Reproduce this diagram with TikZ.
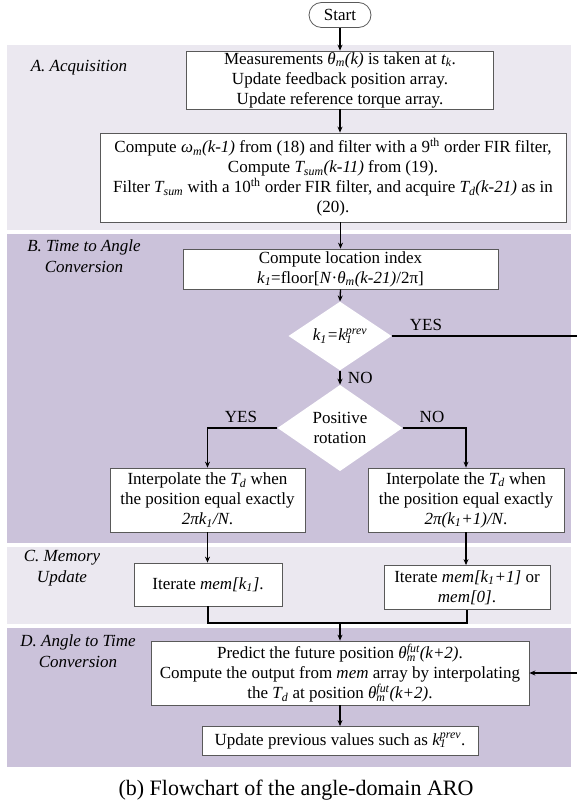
\documentclass[tikz,border=0pt]{standalone}
\usepackage{fontspec}
\setmainfont{Liberation Serif}
\usepackage{tikz}
\usetikzlibrary{positioning}
\usetikzlibrary{shapes.geometric,shapes.misc,arrows.meta}

\definecolor{bandlight}{RGB}{235,232,240}
\definecolor{banddark}{RGB}{203,194,218}

\newcommand{\subsup}[2]{\rlap{\textsubscript{#1}}\textsuperscript{#2}}

\tikzset{
	box/.style={draw=black!65, fill=white, line width=0.8pt, align=center, inner sep=1pt},
	decision/.style={diamond, draw=none, fill=white, align=center, inner sep=0pt},
	flow/.style={line width=1.3pt, -{Stealth[length=6pt,width=5pt]}},
	plain/.style={line width=1.3pt},
	bandlabel/.style={font=\fontsize{17}{20.5}\selectfont\itshape, align=center},
	answer/.style={font=\fontsize{17}{20}\selectfont}
}

\begin{document}
\begin{tikzpicture}[x=1pt, y=-1pt, font=\fontsize{17}{20}\selectfont]

	\useasboundingbox (0,0) rectangle (576,802);

	%Bands
	\fill[bandlight] (7,45) rectangle (571,230);
	\fill[banddark] (7,234) rectangle (571,543);
	\fill[bandlight] (7,547) rectangle (571,624);
	\fill[banddark] (7,628) rectangle (571,767);

	\node[bandlabel] (LabA) at (79,68) {A. Acquisition};
	\node[bandlabel] (LabB) at (84,256) {B. Time to Angle\\Conversion};
	\node[bandlabel] (LabC) at (62,568) {C. Memory\\Update};
	\node[bandlabel] (LabD) at (78,651) {D. Angle to Time\\Conversion};

	%Vertices
	\node[draw=black!65, fill=white, line width=0.8pt, rounded rectangle, minimum width=62pt, minimum height=25pt, inner sep=0pt] (Start) at (340,15) {Start};

	\node[box, minimum width=307pt, minimum height=58pt] (Acq1) at (340,80) {Measurements \textit{θ\textsubscript{m}(k)} is taken at \textit{t\textsubscript{k}}.\\Update feedback position array.\\Update reference torque array.};

	\node[box, minimum width=466pt, minimum height=89pt] (Acq2) at (333,177.5) {Compute \textit{ω\textsubscript{m}(k-1)} from (18) and filter with a 9\textsuperscript{th} order FIR filter,\\Compute \textit{T\textsubscript{sum}(k-11)} from (19).\\Filter \textit{T\textsubscript{sum}} with a 10\textsuperscript{th} order FIR filter, and acquire \textit{T\textsubscript{d}(k-21)} as in\\(20).};

	\node[box, minimum width=315pt, minimum height=40pt] (Loc) at (340.5,269) {Compute location index\\\textit{k\textsubscript{1}}=floor[\textit{N}·\textit{θ\textsubscript{m}(k-21)}/2π]};

	\node[decision, minimum width=103pt, minimum height=61pt] (Same) at (340,336) {\textit{k\textsubscript{1}=k\subsup{1}{prev}}};

	\node[decision, minimum width=125pt, minimum height=73pt] (Rot) at (340,428) {Positive\\rotation};

	\node[box, minimum width=195pt, minimum height=64pt] (InterpP) at (207.5,500) {Interpolate the \textit{T\textsubscript{d}} when\\the position equal exactly\\\textit{2πk\textsubscript{1}/N}.};

	\node[box, minimum width=196pt, minimum height=64pt] (InterpN) at (466,500) {Interpolate the \textit{T\textsubscript{d}} when\\the position equal exactly\\\textit{2π(k\textsubscript{1}+1)/N}.};

	\node[box, minimum width=148pt, minimum height=43pt] (MemP) at (208,584.5) {Iterate \textit{mem[k\textsubscript{1}]}.};

	\node[box, minimum width=166pt, minimum height=44pt] (MemN) at (467,587.5) {Iterate \textit{mem[k\textsubscript{1}+1]} or\\\textit{mem[0]}.};

	\node[box, minimum width=378pt, minimum height=64pt] (Pred) at (340,673) {Predict the future position \textit{θ\subsup{m}{fut}(k+2)}.\\Compute the output from \textit{mem} array by interpolating\\the \textit{T\textsubscript{d}} at position \textit{θ\subsup{m}{fut}(k+2)}.};

	\node[box, minimum width=276pt, minimum height=29pt] (Upd) at (340,741) {Update previous values such as \textit{k\subsup{1}{prev}}.};

	\node[font=\fontsize{22}{26}\selectfont] (Cap) at (296,790) {(b) Flowchart of the angle-domain ARO};

	\coordinate (LoopR) at (590,0);
	\coordinate (Join) at (340,623);

	%Diagram
	\draw[flow] (Start.south) -- (Acq1.north);
	\draw[flow] (Acq1.south) -- (Acq1.south |- Acq2.north);
	\draw[flow] (Loc.north |- Acq2.south) -- (Loc.north);
	\draw[flow] (Loc.south) -- (Same.north);
	\draw[flow] (Same.east) -- (Same.east -| LoopR) |- (Pred.east); %loop leaves the page
	\draw[flow] (Same.south) -- node[answer, right, xshift=4pt] {NO} (Rot.north);
	\draw[flow] (Rot.west) -| (InterpP.north);
	\draw[flow] (Rot.east) -| (InterpN.north);
	\draw[flow] (InterpP.south) -- (InterpP.south |- MemP.north);
	\draw[flow] (InterpN.south) -- (InterpN.south |- MemN.north);
	\draw[plain] (MemP.south) |- (Join) -| (MemN.south);
	\draw[flow] (Join) -- (Pred.north);
	\draw[flow] (Pred.south) -- (Upd.north);

	\node[answer] (YesA) at (426,325) {YES};
	\node[answer] (YesB) at (241,417) {YES};
	\node[answer] (NoB) at (432,417) {NO};

\end{tikzpicture}
\end{document}
